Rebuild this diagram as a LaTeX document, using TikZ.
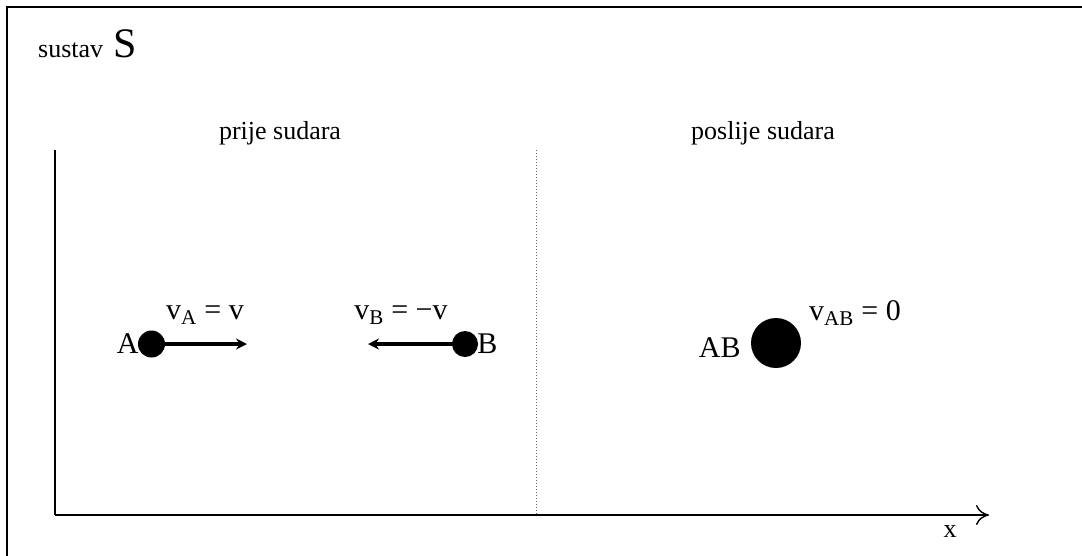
\documentclass[tikz,border=0pt]{standalone}
\usepackage{fontspec}
\setmainfont{Liberation Serif}
\usetikzlibrary{arrows.meta}
\begin{document}
\begin{tikzpicture}[x=1pt,y=-1pt,
  lbl/.style={inner sep=0pt,font=\fontsize{26}{28}\selectfont},
  big/.style={inner sep=0pt,font=\fontsize{30}{32}\selectfont},
  ball/.style={circle,fill=black,inner sep=0pt},
  vel/.style={line width=3.6pt,-{Stealth[length=11pt,width=11pt]}},
  axis/.style={line width=1.4pt}]
\useasboundingbox (0,0) rectangle (1082,555);
\fill[white] (0,0) rectangle (1082,555);
% frame
\draw[line width=2.4pt] (7,600) -- (7,7) -- (1100,7);
% text headers
\node[lbl,anchor=base west] (sys) at (38,57) {sustav\hspace{0.4em}\fontsize{42}{44}\selectfont S};
\node[lbl] (pre) at (280,133) {prije sudara};
\node[lbl] (post) at (763,133) {poslije sudara};
% axes
\coordinate (o) at (55,515);
\coordinate (ytop) at (55,150);
\coordinate (xend) at (989,515);
\draw[axis] (ytop) -- (o);
\draw[axis,-{To[length=13pt,width=20pt]}] (o) -- (xend);
\node[lbl] (xl) at (950,532) {x};
% divider
\coordinate (dtop) at (536,150);
\coordinate (dbot) at (536,515);
\draw[gray!80!black,line width=1pt,dotted] (dtop) -- (dbot);
% ball A
\node[ball,minimum size=27pt] (A) at (151.5,344) {};
\node[big,anchor=east] (Al) at ([xshift=1pt,yshift=0pt]A.west) {A};
\coordinate (Aend) at (247,344);
\draw[vel] (A.center) -- (Aend);
\node[big,anchor=base] (vA) at (205,319) {v\textsubscript{A} = v};
% ball B
\node[ball,minimum size=26pt] (B) at (465,344) {};
\node[big,anchor=west] (Bl) at ([xshift=-1pt,yshift=0pt]B.east) {B};
\coordinate (Bend) at (368,344);
\draw[vel] (B.center) -- (Bend);
\node[big,anchor=base] (vB) at (401,319) {v\textsubscript{B} = −v};
% ball AB
\node[ball,minimum size=50pt] (AB) at (776,343) {};
\node[big,anchor=east] (ABl) at ([xshift=-10pt,yshift=-5pt]AB.west) {AB};
\node[big,anchor=base] (vAB) at (855,320) {v\textsubscript{AB} = 0};
\end{tikzpicture}
\end{document}
